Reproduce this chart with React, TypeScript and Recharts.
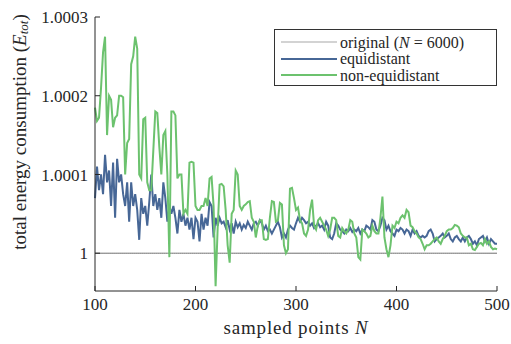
import { LineChart, Line, XAxis, YAxis, Legend } from 'recharts';

// values are the excess over 1, in units of 1e-4 (axis labels add the 1 back)
const equidistantExcess = [
  0.7, 1.1, 0.8, 1.0, 0.75, 1.25, 0.9, 1.05, 0.6, 1.15,
  0.45, 1.2, 0.9, 1.0, 0.75, 0.6, 0.9, 0.4, 0.9, 0.6,
  0.75, 0.55, 0.17, 0.7, 0.5, 0.6, 0.35, 0.65, 1.0, 0.6,
  0.75, 0.55, 0.7, 0.45, 0.9, 0.7, 0.4, 0.6, 0.5, 0.6,
  0.45, 0.25, 0.55, 0.4, 0.5, 0.35, 0.45, 0.3, 0.45, 0.18,
  0.45, 0.4, 0.15, 0.5, 0.3, 0.45, 0.35, 0.65, 0.6, 0.2,
  0.45, 0.35, 0.45, 0.38, 0.4, 0.33, 0.42, 0.3, 0.38, 0.25,
  0.4, 0.33, 0.38, 0.3, 0.36, 0.32, 0.4, 0.35, 0.3, 0.38,
  0.4, 0.35, 0.42, 0.38, 0.3, 0.35, 0.28, 0.3, 0.25, 0.3,
  0.35, 0.4, 0.33, 0.2, 0.25, 0.2, 0.3, 0.35, 0.32, 0.3,
  0.38, 0.45, 0.4, 0.45, 0.42, 0.38, 0.4, 0.35, 0.38, 0.32,
  0.35, 0.38, 0.33, 0.35, 0.3, 0.4, 0.35, 0.2, 0.18, 0.25,
  0.38, 0.35, 0.3, 0.28, 0.25, 0.3, 0.28, 0.32, 0.27, 0.3,
  0.28, 0.32, 0.25, 0.3, 0.28, 0.35, 0.33, 0.3, 0.42, 0.4,
  0.3, 0.28, 0.35, 0.45, 0.42, 0.3, 0.35, 0.28, 0.25, 0.22,
  0.3, 0.28, 0.32, 0.3, 0.25, 0.3, 0.28, 0.22, 0.3, 0.25,
  0.28, 0.22, 0.2, 0.22, 0.2, 0.22, 0.28, 0.3, 0.25, 0.15,
  0.18, 0.2, 0.22, 0.25, 0.2, 0.22, 0.25, 0.18, 0.15, 0.2,
  0.22, 0.18, 0.15, 0.2, 0.15, 0.2, 0.22, 0.18, 0.12, 0.15,
  0.1, 0.18, 0.2, 0.22, 0.15, 0.2, 0.12, 0.18, 0.15, 0.12,
  0.12,
];

const nonEquidistantExcess = [
  1.85, 1.68, 1.72, 2.1, 2.55, 2.75, 1.5, 2.0, 1.95, 1.6,
  1.72, 1.75, 2.0, 2.0, 1.98, 1.0, 1.4, 1.45, 2.4, 2.5,
  2.75, 2.6, 1.0, 0.95, 1.7, 1.72, 0.9, 0.8, 0.8, 1.3,
  1.8, 1.78, 1.35, 1.0, 1.5, 1.55, 1.0, -0.05, 1.8, 1.8,
  1.75, 0.95, 1.0, 1.0, 0.5, 0.55, 0.5, 1.15, 1.16, 1.15,
  0.6, 0.55, 0.55, 0.6, 0.6, 0.7, 0.6, 0.95, 0.97, 0.6,
  -0.42, 0.3, 0.87, 0.88, 0.85, 0.55, 0.1, -0.12, 0.5, 0.55,
  1.05, 1.0, 0.6, 0.55, 0.6, 0.62, 0.65, 0.66, 0.45, 0.4,
  0.2, 0.35, 0.42, 0.42, 0.18, 0.17, 0.18, 0.45, 0.66, 0.65,
  0.4, 0.42, 0.64, 0.62, 0.1, 0.0, 0.05, 0.82, 0.83, 0.7,
  0.55, 0.58, 0.42, 0.38, 0.25, 0.22, 0.3, 0.55, 0.68, 0.35,
  0.3, 0.42, 0.45, 0.4, 0.35, 0.3, 0.22, 0.3, 0.45, 0.45,
  0.42, 0.22, 0.2, 0.32, 0.28, 0.25, 0.3, 0.42, 0.4, 0.25,
  0.2, -0.05, -0.08, 0.3, 0.28, 0.25, 0.2, 0.22, 0.35, 0.28,
  0.25, 0.25, 0.45, 0.72, 0.2, 0.05, -0.05, 0.1, 0.35, 0.32,
  0.4, 0.38, 0.45, 0.48, 0.45, 0.55, 0.52, 0.35, 0.33, 0.28,
  0.25, 0.2, 0.18, 0.12, 0.05, 0.1, 0.1, 0.12, 0.15, 0.18,
  0.2, 0.15, 0.12, 0.18, 0.22, 0.28, 0.3, 0.3, 0.32, 0.36,
  0.35, 0.33, 0.25, 0.22, 0.2, 0.2, 0.1, 0.12, 0.05, 0.04,
  0.08, 0.12, 0.13, 0.1, 0.18, 0.12, 0.15, 0.08, 0.05, 0.06,
  0.05,
];

const originalExcess = 0; // the N = 6000 reference sits exactly at 1

const FIRST_N = 100;
const N_STEP = 2;
const xTicks = [100, 200, 300, 400, 500];
const yTicks = [0, 1, 2, 3];

const BLUE = '#476796';
const GREEN = '#6cc26e';
const GRAY = '#6e6e6e';
const INK = '#262626';
const FONT = 'Liberation Serif';

const data = equidistantExcess.map((v, i) => ({
  n: FIRST_N + i * N_STEP,
  original: originalExcess,
  equidistant: v,
  nonEquidistant: nonEquidistantExcess[i],
}));

const formatY = (v: number) => (v === 0 ? '1' : `1.000${v}`);

const renderYLabel = () => (
  <text
    x={19}
    y={132}
    transform="rotate(-90, 19, 132)"
    textAnchor="middle"
    dominantBaseline="central"
    fontFamily={FONT}
    fontSize={19}
    fill={INK}
  >
    total energy consumption (<tspan fontStyle="italic">E</tspan>
    <tspan fontStyle="italic" fontSize={13} dy={4}>tot</tspan>
    <tspan dy={-4}>)</tspan>
  </text>
);

const renderXLabel = () => (
  <text x={296} y={334} textAnchor="middle" fontFamily={FONT} fontSize={19} fill={INK} letterSpacing={0.8}>
    sampled points <tspan fontStyle="italic">N</tspan>
  </text>
);

const legendRows = [
  { key: 'original', color: '#a8a8a8', label: <>original (<i>N</i> = 6000)</> },
  { key: 'equidistant', color: BLUE, label: <>equidistant</> },
  { key: 'nonEquidistant', color: GREEN, label: <>non-equidistant</> },
];

const LegendBox = () => (
  <div
    style={{
      border: '1px solid #333',
      background: '#fff',
      padding: '4px 0 2px',
      fontFamily: FONT,
      fontSize: 16,
      color: INK,
      lineHeight: '15px',
      boxSizing: 'border-box',
      height: 57,
    }}
  >
    {legendRows.map((row) => (
      <div key={row.key} style={{ display: 'flex', alignItems: 'center', height: 16.5 }}>
        <svg width={65} height={10} style={{ flex: 'none' }}>
          <line x1={6} x2={62} y1={5} y2={5} stroke={row.color} strokeWidth={row.key === 'original' ? 1.2 : 2} />
        </svg>
        <span style={{ whiteSpace: 'nowrap' }}>{row.label}</span>
      </div>
    ))}
  </div>
);

export default function App() {
  return (
    <div
      style={{
        position: 'absolute',
        left: 0,
        top: 0,
        width: 511,
        height: 344,
        background: '#fff',
        fontFamily: FONT,
      }}
    >
      <LineChart width={511} height={344} data={data} margin={{ top: 17, right: 14, left: 0, bottom: 0 }}>
        <XAxis
          dataKey="n"
          type="number"
          domain={[100, 500]}
          ticks={xTicks}
          height={53}
          tickSize={-5}
          tickMargin={12}
          stroke={INK}
          tick={{ fill: INK, fontSize: 17, fontFamily: FONT }}
          label={{ content: renderXLabel }}
        />
        <YAxis
          type="number"
          domain={[-0.48, 3]}
          ticks={yTicks}
          width={95}
          tickSize={-5}
          tickMargin={12}
          tickFormatter={formatY}
          stroke={INK}
          tick={{ fill: INK, fontSize: 17, fontFamily: FONT }}
          label={{ content: renderYLabel }}
        />
        <Line dataKey="original" stroke={GRAY} strokeWidth={1} dot={false} isAnimationActive={false} />
        <Line dataKey="equidistant" stroke={BLUE} strokeWidth={2} dot={false} isAnimationActive={false} />
        <Line dataKey="nonEquidistant" stroke={GREEN} strokeWidth={2} dot={false} isAnimationActive={false} />
        <Legend
          layout="vertical"
          align="center"
          verticalAlign="middle"
          content={<LegendBox />}
          wrapperStyle={{ position: 'absolute', top: 29, left: 274, width: 223, height: 'auto' }}
        />
      </LineChart>
    </div>
  );
}
